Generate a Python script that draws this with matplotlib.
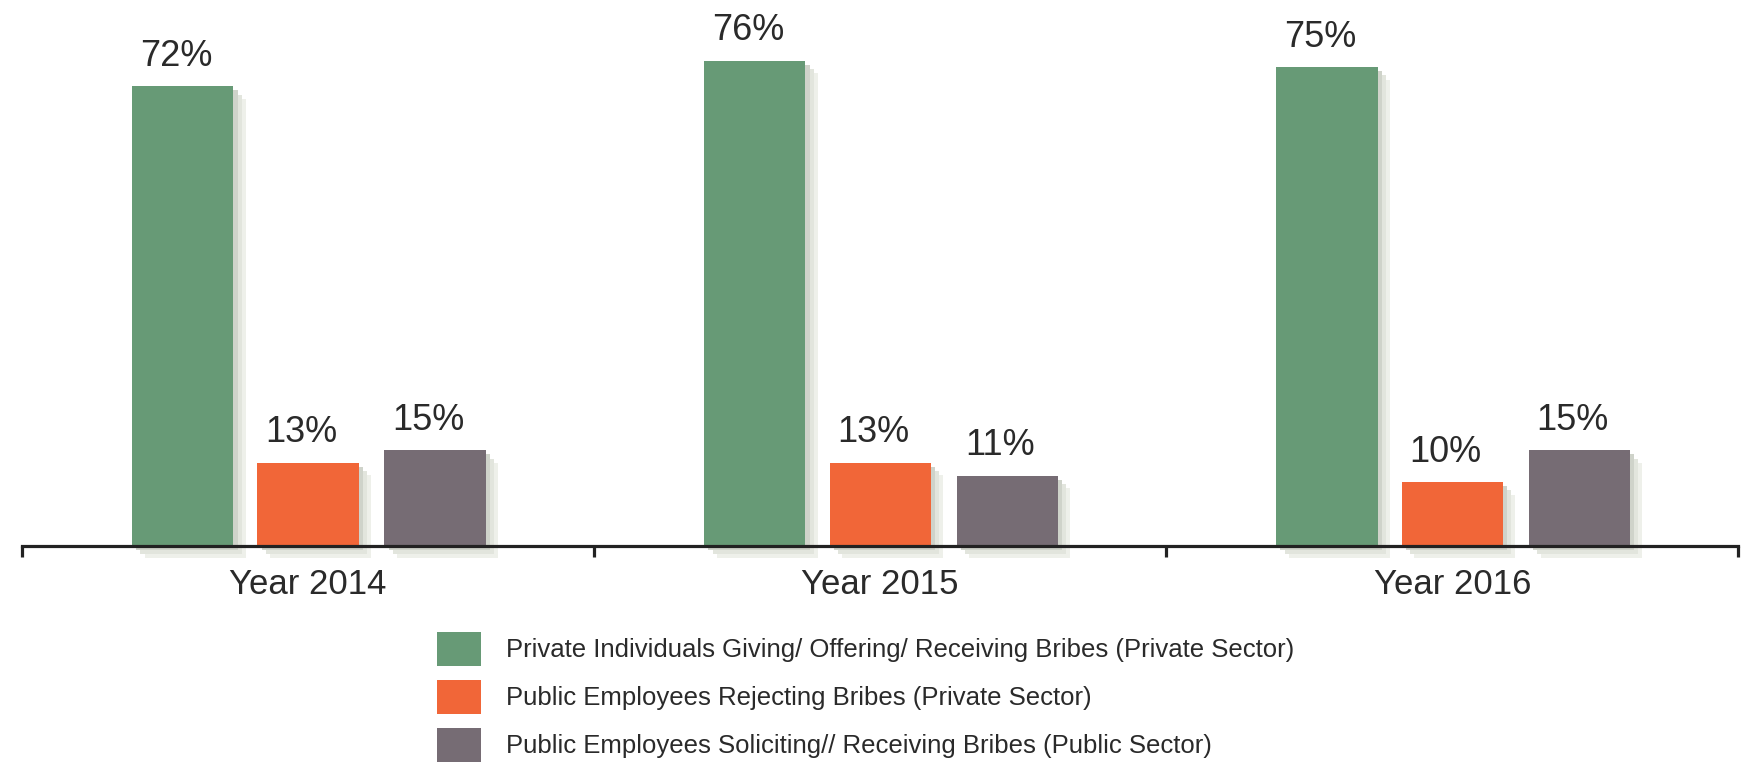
import matplotlib
matplotlib.use("Agg")
import matplotlib.pyplot as plt
import matplotlib.patheffects as pe
import numpy as np
from matplotlib.patches import Patch

YEARS = ["Year 2014", "Year 2015", "Year 2016"]
SERIES_LABELS = [
    "Private Individuals Giving/ Offering/ Receiving Bribes (Private Sector)",
    "Public Employees Rejecting Bribes (Private Sector)",
    "Public Employees Soliciting// Receiving Bribes (Public Sector)",
]
PRIVATE_GIVING = [72, 76, 75]
PUBLIC_REJECTING = [13, 13, 10]
PUBLIC_SOLICITING = [15, 11, 15]

COLORS = ["#679a76", "#f16638", "#766c74"]
TEXT_COLOR = "#2a2a2a"


def main():
    plt.rcParams.update({
        "font.family": ["Liberation Sans", "DejaVu Sans"],
    })
    fig = plt.figure(figsize=(17.47, 7.62), dpi=100)
    ax = fig.add_axes([0.0126, 0.2835, 0.9824, 0.7165])

    x = np.arange(len(YEARS))
    width = 0.177
    offsets = [-0.219, 0.0, 0.222]
    series = [PRIVATE_GIVING, PUBLIC_REJECTING, PUBLIC_SOLICITING]

    shadow = [
        pe.SimplePatchShadow(offset=(9, -9), shadow_rgbFace="#eef0ea", alpha=1.0),
        pe.SimplePatchShadow(offset=(6, -6), shadow_rgbFace="#e2e5dd", alpha=1.0),
        pe.SimplePatchShadow(offset=(3, -3), shadow_rgbFace="#cfd3ca", alpha=1.0),
        pe.Normal(),
    ]

    for values, off, color in zip(series, offsets, COLORS):
        bars = ax.bar(x + off, values, width=width, color=color, clip_on=False, zorder=2)
        for bar, v in zip(bars, values):
            bar.set_path_effects(shadow)
            ax.annotate(
                f"{v}%",
                xy=(bar.get_x() + bar.get_width() / 2, bar.get_height()),
                xytext=(-5, 9),
                textcoords="offset points",
                ha="center",
                va="bottom",
                fontsize=26,
                color=TEXT_COLOR,
            )

    ax.set_xlim(-0.5, 2.5)
    ax.set_ylim(0, 85.5)

    for side in ["top", "right", "left"]:
        ax.spines[side].set_visible(False)
    ax.spines["bottom"].set_linewidth(2.3)
    ax.spines["bottom"].set_color("#222222")
    ax.spines["bottom"].set_zorder(3)
    ax.set_yticks([])

    ax.set_xticks([-0.5, 0.5, 1.5, 2.5])
    ax.set_xticklabels([])
    ax.tick_params(axis="x", which="major", length=8, width=2.3, color="#222222", direction="out")
    ax.set_xticks(x, minor=True)
    ax.set_xticklabels(YEARS, minor=True, fontsize=25, color=TEXT_COLOR)
    ax.tick_params(axis="x", which="minor", length=0, pad=16)

    handles = [Patch(facecolor=c, edgecolor="none") for c in COLORS]
    fig.legend(
        handles,
        SERIES_LABELS,
        loc="upper left",
        bbox_to_anchor=(0.25, 0.1706),
        frameon=False,
        fontsize=18.5,
        handlelength=1.71,
        handleheight=1.64,
        handletextpad=1.0,
        labelspacing=0.56,
        borderpad=0,
        borderaxespad=0,
        labelcolor=TEXT_COLOR,
    )

    fig.savefig("out.png", dpi=100)
    plt.close(fig)


if __name__ == "__main__":
    main()
